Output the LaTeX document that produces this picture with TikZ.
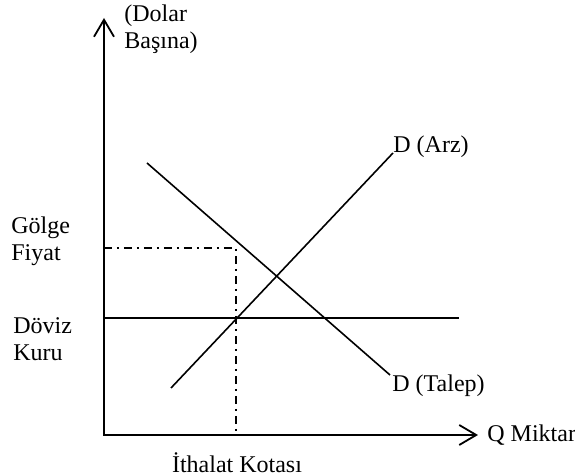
\documentclass[tikz,border=0pt]{standalone}
\usepackage{fontspec}
\setmainfont{Liberation Serif}
\usetikzlibrary{arrows.meta, positioning, calc}

\begin{document}
\begin{tikzpicture}[
    x=0.5pt, y=-0.5pt,
    font=\fontsize{12}{13.5}\selectfont,
    lbl/.style={align=left, inner sep=0pt},
    axisline/.style={{Straight Barb[length=8.5pt, width=10pt]}-{Straight Barb[length=8.5pt, width=10pt]}, line width=0.9pt},
    curve/.style={line width=0.8pt},
    guide/.style={line width=0.8pt, dash pattern=on 4pt off 2.5pt on 1pt off 2.5pt}
]
\useasboundingbox (0,0) rectangle (575,475);

% Axes
\coordinate (O) at (104,435);
\coordinate (ytop) at (104,18);
\coordinate (xend) at (478,435);
\draw[axisline] (ytop) -- (O) -- (xend);

% Axis labels
\node[lbl, anchor=west] (ylab) at (124,29) {(Dolar\\Başına)};
\node[lbl, anchor=west] (xlab) at (487,435) {Q Miktar};

% Exchange rate line
\coordinate (h1) at (104,318);
\coordinate (h2) at (459,318);
\draw[curve] (h1) -- (h2);

% Supply and demand
\coordinate (s1) at (171,388);
\coordinate (s2) at (393,153);
\coordinate (d1) at (147,163);
\coordinate (d2) at (390,375);
\draw[curve] (s1) -- (s2);
\draw[curve] (d1) -- (d2);
\node[lbl, anchor=base west] (arz) at (s2) {D (Arz)};
\node[lbl, anchor=west] (talep) at (392,386) {D (Talep)};

% Quota guides
\coordinate (q1) at (104,248);
\coordinate (q2) at (236,248);
\coordinate (q3) at (236,435);
\draw[guide] (q1) -- (q2) -- (q3);

% Left and bottom labels
\node[lbl, anchor=west] (golge) at (11,241) {Gölge\\Fiyat};
\node[lbl, anchor=west] (doviz) at (13,339) {Döviz\\Kuru};
\node[lbl] (kota) at (237,463) {İthalat Kotası};

\end{tikzpicture}
\end{document}
